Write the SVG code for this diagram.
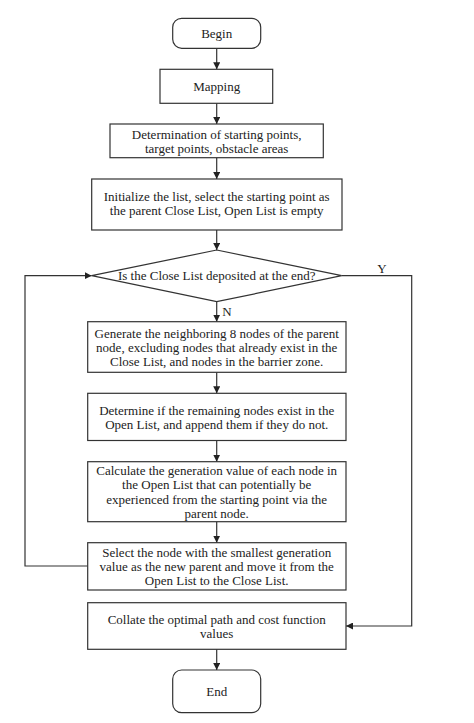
<svg xmlns="http://www.w3.org/2000/svg" width="474" height="723" viewBox="0 0 474 723">
<style>
.box{fill:#fff;stroke:#333;stroke-width:1.2}
.ln{fill:none;stroke:#333;stroke-width:1.2}
text{font-family:"Liberation Serif","DejaVu Serif",serif;font-size:13px;fill:#222;text-anchor:middle}
</style>
<defs>
<marker id="ah" viewBox="0 0 10 10" refX="10" refY="5" markerWidth="7" markerHeight="7" markerUnits="userSpaceOnUse" orient="auto">
<path d="M0,0 L10,5 L0,10 z" fill="#222"/>
</marker>
</defs>
<rect width="474" height="723" fill="#fff"/>
<g id="connectors">
<line class="ln" x1="216.7" y1="48.3" x2="216.7" y2="69.3" marker-end="url(#ah)"/>
<line class="ln" x1="216.7" y1="103.3" x2="216.7" y2="124" marker-end="url(#ah)"/>
<line class="ln" x1="216.7" y1="157.7" x2="216.7" y2="179" marker-end="url(#ah)"/>
<line class="ln" x1="216.7" y1="230" x2="216.7" y2="250" marker-end="url(#ah)"/>
<line class="ln" x1="216.7" y1="301.7" x2="216.7" y2="321.7" marker-end="url(#ah)"/>
<line class="ln" x1="216.7" y1="372.3" x2="216.7" y2="393.3" marker-end="url(#ah)"/>
<line class="ln" x1="216.7" y1="440.5" x2="216.7" y2="461.7" marker-end="url(#ah)"/>
<line class="ln" x1="216.7" y1="521.7" x2="216.7" y2="542.7" marker-end="url(#ah)"/>
<line class="ln" x1="216.7" y1="649.3" x2="216.7" y2="670" marker-end="url(#ah)"/>
<polyline class="ln" points="87.7,566 25,566 25,275.7 91.7,275.7" marker-end="url(#ah)"/>
<polyline class="ln" points="341.7,275.7 411.7,275.7 411.7,626 346,626" marker-end="url(#ah)"/>
<text x="382" y="273">Y</text>
<text x="227" y="315.5">N</text>
</g>
<g id="begin">
<rect class="box" x="172.7" y="18.3" width="88" height="30" rx="9"/>
<text x="216.7" y="37.8">Begin</text>
</g>
<g id="mapping">
<rect class="box" x="160" y="69.3" width="112.7" height="34"/>
<text x="216.7" y="91.2">Mapping</text>
</g>
<g id="determination">
<rect class="box" x="110" y="124" width="213.3" height="33.7"/>
<text x="216.7" y="139.2">Determination of starting points,</text>
<text x="216.7" y="153.2">target points, obstacle areas</text>
</g>
<g id="initialize">
<rect class="box" x="91.7" y="179" width="250.3" height="51"/>
<text x="216.7" y="201.4">Initialize the list, select the starting point as</text>
<text x="216.7" y="215.4">the parent Close List, Open List is empty</text>
</g>
<g id="decision">
<polygon class="box" points="216.7,250 341.7,275.7 216.7,301.7 91.7,275.7"/>
<text x="216.7" y="280.2">Is the Close List deposited at the end?</text>
</g>
<g id="generate">
<rect class="box" x="87.7" y="321.7" width="258.3" height="50.6"/>
<text x="216.7" y="337.7">Generate the neighboring 8 nodes of the parent</text>
<text x="216.7" y="351.7">node, excluding nodes that already exist in the</text>
<text x="216.7" y="365.7">Close List, and nodes in the barrier zone.</text>
</g>
<g id="determine">
<rect class="box" x="87.7" y="393.3" width="258.3" height="47.2"/>
<text x="216.7" y="414.9">Determine if the remaining nodes exist in the</text>
<text x="216.7" y="428.9">Open List, and append them if they do not.</text>
</g>
<g id="calculate">
<rect class="box" x="87.7" y="461.7" width="258.3" height="60"/>
<text x="216.7" y="475.2">Calculate the generation value of each node in</text>
<text x="216.7" y="489.3">the Open List that can potentially be</text>
<text x="216.7" y="503.6">experienced from the starting point via the</text>
<text x="216.7" y="517.7">parent node.</text>
</g>
<g id="select">
<rect class="box" x="87.7" y="542.7" width="258.3" height="47.3"/>
<text x="216.7" y="557.2">Select the node with the smallest generation</text>
<text x="216.7" y="571.3">value as the new parent and move it from the</text>
<text x="216.7" y="585.4">Open List to the Close List.</text>
</g>
<g id="collate">
<rect class="box" x="87.7" y="602.7" width="258.3" height="46.6"/>
<text x="216.7" y="623.8">Collate the optimal path and cost function</text>
<text x="216.7" y="637.9">values</text>
</g>
<g id="end">
<rect class="box" x="172.7" y="670" width="88" height="42.7" rx="9"/>
<text x="216.7" y="696.2">End</text>
</g>
</svg>
